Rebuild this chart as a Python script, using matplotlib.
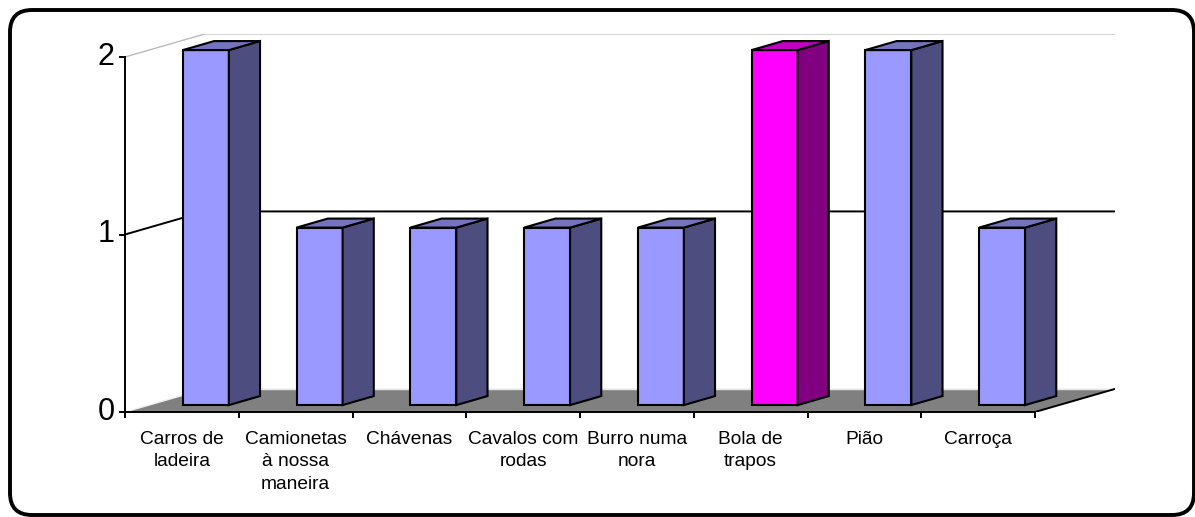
import matplotlib.pyplot as plt
from matplotlib.patches import Polygon, FancyBboxPatch

plt.rcParams['font.family'] = ['Liberation Sans', 'DejaVu Sans']

categories = ['Carros de\nladeira', 'Camionetas\nà nossa\nmaneira', 'Chávenas',
              'Cavalos com\nrodas', 'Burro numa\nnora', 'Bola de\ntrapos', 'Pião', 'Carroça']
values = [2, 1, 1, 1, 1, 2, 2, 1]
highlight = 5
yticks = [0, 1, 2]

# face colours: front, side, top
normal = ('#9999FF', '#4D4D80', '#7373C0')
special = ('#FF00FF', '#800080', '#BF00BF')

W, H = 1195, 517
fig = plt.figure(figsize=(W / 100, H / 100), dpi=100)

# outer rounded frame, in pixel units
bg = fig.add_axes([0, 0, 1, 1])
bg.set_xlim(0, W)
bg.set_ylim(H, 0)
bg.axis('off')
bg.add_patch(FancyBboxPatch((10, 10), 1184, 505, boxstyle='round,pad=0,rounding_size=22',
                            facecolor='white', edgecolor='black', lw=2.8))

# depth of the 3d box, in data units
n = len(categories)
DX, DY = 0.703, 0.13
x0px, x1px, y0px, ytop = 125, 125 + (n + DX) * 113.75, 412, 412 - (2 + DY) * 177.5
ax = fig.add_axes([x0px / W, 1 - y0px / H, (x1px - x0px) / W, (y0px - ytop) / H])
ax.set_xlim(0, n + DX)
ax.set_ylim(0, 2 + DY)
ax.axis('off')


def P(x, y, d):
    return (x + d * DX, y + d * DY)


ymax = max(yticks)
# floor
ax.add_patch(Polygon([P(0, 0, 0), P(n, 0, 0), P(n, 0, 1), P(0, 0, 1)],
                     closed=True, facecolor='#808080', edgecolor='none', zorder=1))
ax.plot(*zip(P(0, 0, 1), P(n, 0, 1)), color='#E8E8E8', lw=1, zorder=2)
ax.plot(*zip(P(0, 0, 0), P(0, 0, 1)), color='#F0F0F0', lw=1, zorder=2)
ax.plot(*zip(P(n, 0, 0), P(n, 0, 1)), color='black', lw=1.4, zorder=2)

# gridlines on left wall and back wall
for v in yticks[1:]:
    c = 'black' if v < ymax else '#BBBBBB'
    lw = 1.4 if v < ymax else 1
    ax.plot(*zip(P(0, v, 0), P(0, v, 1), P(n, v, 1)), color=c, lw=lw, zorder=2)

# bars
bw = 0.404
d0, d1 = 0.3, 0.69
for i, v in enumerate(values):
    front, side, top = special if i == highlight else normal
    xl = i + 0.5 - bw / 2
    xr = i + 0.5 + bw / 2
    kw = dict(closed=True, edgecolor='black', lw=1.5, joinstyle='miter', zorder=3)
    ax.add_patch(Polygon([P(xl, 0, d0), P(xr, 0, d0), P(xr, v, d0), P(xl, v, d0)],
                         facecolor=front, **kw))
    ax.add_patch(Polygon([P(xr, 0, d0), P(xr, 0, d1), P(xr, v, d1), P(xr, v, d0)],
                         facecolor=side, **kw))
    ax.add_patch(Polygon([P(xl, v, d0), P(xr, v, d0), P(xr, v, d1), P(xl, v, d1)],
                         facecolor=top, **kw))

# front axes
tx = 5 / 113.75
ty = 5 / 177.5
ax.plot([0, 0], [-ty, ymax], color='black', lw=1.4, zorder=4, clip_on=False)
ax.plot([0, n], [0, 0], color='black', lw=1.4, zorder=4, clip_on=False)
for v in yticks:
    ax.plot([-tx, 0], [v, v], color='black', lw=1.4, zorder=4, clip_on=False)
    ax.text(-0.09, v, str(v), ha='right', va='center', fontsize=22, clip_on=False)
for k in range(n + 1):
    ax.plot([k, k], [0, -ty], color='black', lw=1.4, zorder=4, clip_on=False)
for i, lab in enumerate(categories):
    ax.text(i + 0.5, -0.105, lab, ha='center', va='top', fontsize=13.8,
            linespacing=1.45, clip_on=False)

fig.savefig('out.png', dpi=100)
